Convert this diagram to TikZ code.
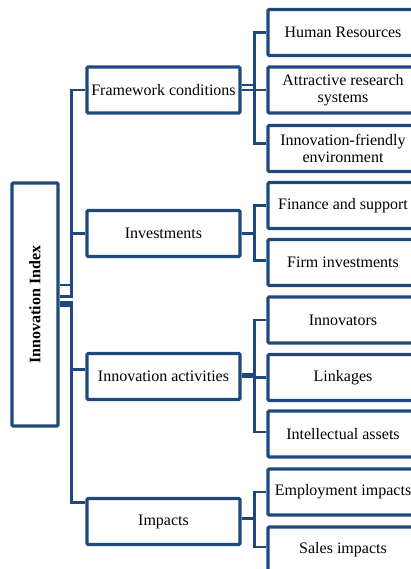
\documentclass[tikz,border=0pt]{standalone}
\usepackage{fontspec}
\setmainfont{Liberation Serif}
\definecolor{idxblue}{RGB}{31,73,125}
\begin{document}
\begin{tikzpicture}[x=1pt,y=-1pt,
    box/.style={draw=idxblue, line width=3.1pt, rounded corners=1pt, fill=white,
      inner sep=1pt, align=center, font=\fontsize{16}{17}\selectfont},
    lvlone/.style={box, minimum width=153pt, minimum height=46pt},
    lvltwo/.style={box, minimum width=150pt, minimum height=46pt},
    link/.style={draw=idxblue, line width=2.9pt}]
  \useasboundingbox (0,0) rectangle (411,569);
  % main index
  \node[box, minimum width=46pt, minimum height=243pt] (root) at (35,304.5) {};
  \node[rotate=90, font=\fontsize{16}{17}\selectfont\bfseries] (roottext) at (root.center) {Innovation Index};
  % first level
  \draw
    (163.5,90) node[lvlone] (fw){Framework conditions}
    (163.5,233.5) node[lvlone] (inv){Investments}
    (163.5,376.5) node[lvlone] (act){Innovation activities}
    (163.5,521.5) node[lvlone] (imp){Impacts};
  % second level
  \draw
    (343,32.5) node[lvltwo] (hr){Human Resources}
    (343,90) node[lvltwo] (ars){Attractive research\\systems}
    (343,148.5) node[lvltwo] (ife){Innovation-friendly\\environment}
    (343,205.5) node[lvltwo] (fin){Finance and support}
    (343,262.5) node[lvltwo] (firm){Firm investments}
    (343,320) node[lvltwo] (innov){Innovators}
    (343,377.5) node[lvltwo] (lnk){Linkages}
    (343,434) node[lvltwo] (ia){Intellectual assets}
    (343,492) node[lvltwo] (emp){Employment impacts}
    (343,550) node[lvltwo] (sales){Sales impacts};
  \begin{scope}[link]
    \draw ([yshift=19.5pt]root.east) -- ++(12,0) |- (fw.west);
    \draw ([yshift=8pt]root.east) -- ++(12,0) |- (inv.west);
    \draw ([yshift=2pt]root.east) -- ++(12,0) |- ([yshift=7pt]act.west);
    \draw ([yshift=-1pt]root.east) -- ++(12,0) |- ([yshift=19pt]imp.west);
    \draw ([yshift=5pt]fw.east) -- ++(13,0) |- (hr.west);
    \draw (fw.east) -- ++(13,0) |- (ars.west);
    \draw ([yshift=5pt]fw.east) -- ++(13,0) |- ([yshift=5pt]ife.west);
    \draw (inv.east) -- ++(13,0) |- (fin.west);
    \draw (inv.east) -- ++(13,0) |- ([yshift=2pt]firm.west);
    \draw ([yshift=2pt]act.east) -- ++(13,0) |- (innov.west);
    \draw (act.east) -- ++(13,0) |- (lnk.west);
    \draw ([yshift=2pt]act.east) -- ++(13,0) |- ([yshift=2pt]ia.west);
    \draw ([yshift=3pt]imp.east) -- ++(13,0) |- (emp.west);
    \draw ([yshift=3pt]imp.east) -- ++(13,0) |- ([yshift=3pt]sales.west);
  \end{scope}
\end{tikzpicture}
\end{document}
